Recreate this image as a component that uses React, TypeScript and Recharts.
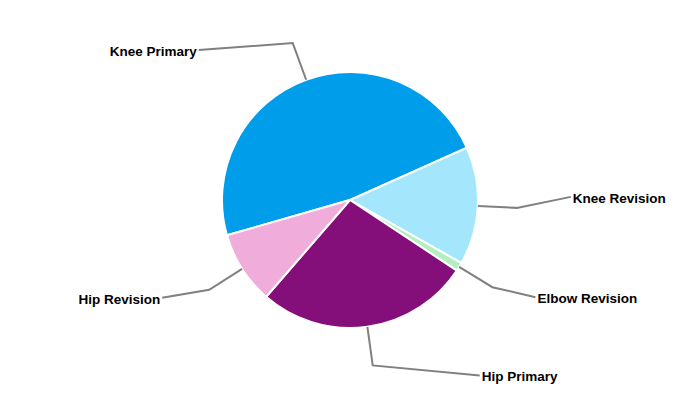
import { PieChart, Pie, Cell } from 'recharts';

const CATEGORIES = ['Knee Primary', 'Knee Revision', 'Elbow Revision', 'Hip Primary', 'Hip Revision'];
const SHARES = [47.8, 14.9, 1.1, 27.1, 9.2];

const SLICE_COLORS = ['#009EEA', '#A4E7FD', '#B4EDC0', '#850F7A', '#F0ACDA'];

// final leg of each leader line, relative to its elbow
const LABEL_LEGS: Record<string, [number, number]> = {
  'Knee Primary': [-94, 7],
  'Knee Revision': [54, -11],
  'Elbow Revision': [43, 10],
  'Hip Primary': [107, 10],
  'Hip Revision': [-47, 8],
};

const data = CATEGORIES.map((name, i) => ({ name, value: SHARES[i] }));

const RAD = Math.PI / 180;

function LeaderLabel(props: any) {
  const { cx, cy, midAngle, outerRadius, name } = props;
  const cos = Math.cos(-midAngle * RAD);
  const sin = Math.sin(-midAngle * RAD);
  const x0 = cx + outerRadius * cos;
  const y0 = cy + outerRadius * sin;
  const x1 = cx + (outerRadius + 39) * cos;
  const y1 = cy + (outerRadius + 39) * sin;
  const [dx, dy] = LABEL_LEGS[name] || [cos >= 0 ? 40 : -40, 0];
  const x2 = x1 + dx;
  const y2 = y1 + dy;
  const right = dx >= 0;
  return (
    <g>
      <polyline
        points={`${x0},${y0} ${x1},${y1} ${x2},${y2}`}
        fill="none"
        stroke="#808080"
        strokeWidth={2}
      />
      <text
        x={right ? x2 + 2 : x2 - 2}
        y={y2 + 1}
        dy="0.35em"
        textAnchor={right ? 'start' : 'end'}
        fill="#000"
        fontFamily="'Liberation Sans', Arial, sans-serif"
        fontWeight="bold"
        fontSize={13.5}
      >
        {name}
      </text>
    </g>
  );
}

export default function App() {
  return (
    <div style={{ width: 700, height: 400, margin: -8, background: '#fff' }}>
      <PieChart width={700} height={400} margin={{ top: 0, right: 0, bottom: 0, left: 0 }}>
        <Pie
          data={data}
          dataKey="value"
          nameKey="name"
          cx={350}
          cy={200}
          outerRadius={128}
          startAngle={196}
          endAngle={-164}
          stroke="#fff"
          strokeWidth={2}
          label={LeaderLabel}
          labelLine={false}
          isAnimationActive={false}
        >
          {data.map((d, i) => (
            <Cell key={d.name} fill={SLICE_COLORS[i]} />
          ))}
        </Pie>
      </PieChart>
    </div>
  );
}
